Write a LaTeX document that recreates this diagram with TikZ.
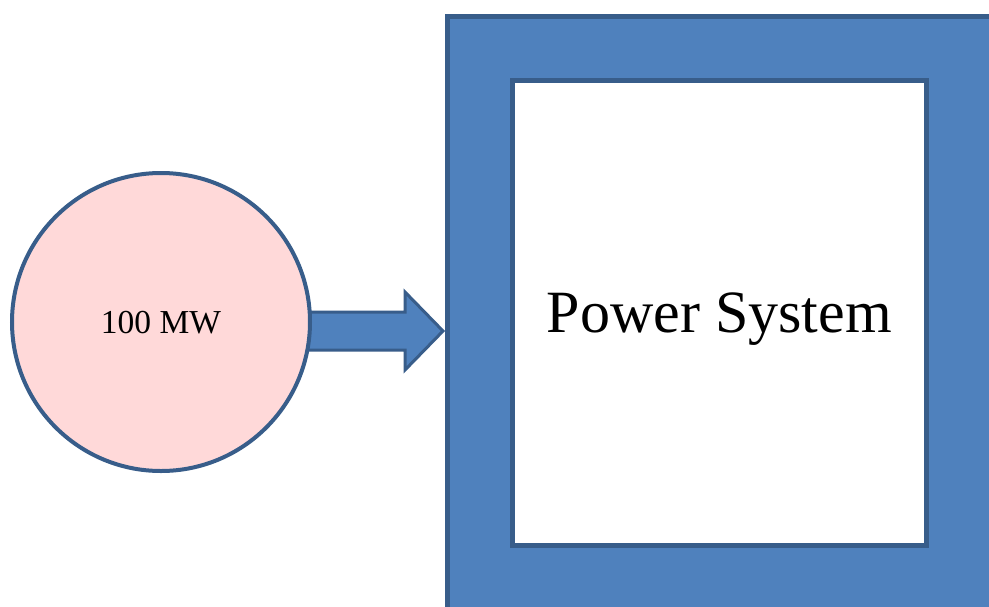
\documentclass[tikz,border=0pt]{standalone}
\usepackage{fontspec}
\setmainfont{Liberation Serif}
\definecolor{bfill}{HTML}{4F81BD}
\definecolor{bline}{HTML}{385D8A}
\definecolor{pinkfill}{HTML}{FFD9D9}
\tikzset{
  frame/.style={draw=bline, fill=bfill, line width=5pt, inner sep=0pt},
  innerbox/.style={draw=bline, fill=white, line width=5pt, inner sep=0pt,
    font=\fontsize{60}{60}\selectfont, text height=39.7pt, text depth=0pt},
  gencircle/.style={circle, draw=bline, fill=pinkfill, line width=4pt, inner sep=0pt,
    font=\fontsize{33.5}{34}\selectfont, text height=22pt, text depth=0pt},
  bigarrow/.style={draw=bline, fill=bfill, line width=3pt, line join=miter}
}
\begin{document}
\begin{tikzpicture}[x=1pt,y=-1pt]
\useasboundingbox (0,0) rectangle (989,606);
\clip (0,0) rectangle (989,606);
\fill[white] (0,0) rectangle (989,606);
% outer frame
\node[frame, anchor=north west, minimum width=565pt, minimum height=616pt] (sys) at (444.5,14) {};
% inner white box
\node[innerbox, minimum width=413.5pt, minimum height=465pt] (ps) at (719.25,313) {Power System};
% arrow
\coordinate (a1) at (300,312);
\coordinate (a2) at (405,312);
\coordinate (a3) at (405,292);
\coordinate (tip) at (443,331);
\coordinate (a5) at (405,370);
\coordinate (a6) at (405,350);
\coordinate (a7) at (300,350);
\draw[bigarrow] (a1) -- (a2) -- (a3) -- (tip) -- (a5) -- (a6) -- (a7) -- cycle;
% generator circle
\node[gencircle, minimum size=298pt] (gen) at (161,322) {100 MW};
\end{tikzpicture}
\end{document}
